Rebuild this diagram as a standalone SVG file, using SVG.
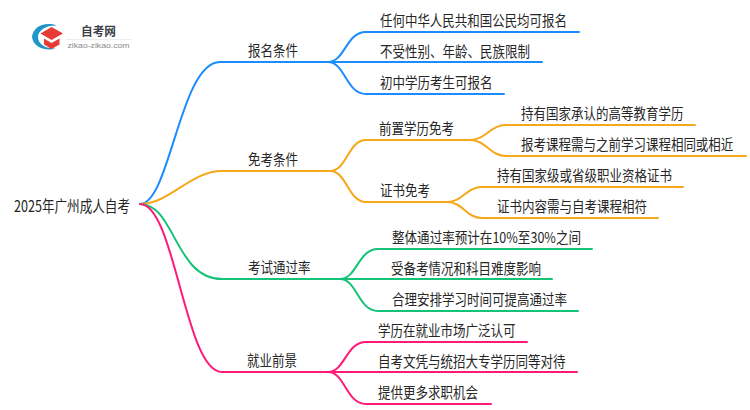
<svg xmlns="http://www.w3.org/2000/svg" width="750" height="410" viewBox="0 0 750 410">
<style>
text{font-family:"Noto Sans CJK SC","Liberation Sans",sans-serif;font-size:15px;fill:#262626}
.c path{fill:none;stroke-width:2;stroke-linecap:round}
.b path{stroke:#1a8cff}.o path{stroke:#f5a81c}.g path{stroke:#14c278}.p path{stroke:#ff1a78}
</style>
<rect width="750" height="410" fill="#fff"/>
<g id="logo">
<path d="M57 25.500C44 21 33 27 32 37C33 46 44 52 56 48.500C47 49 38 45 38 37C38 30 47 25 57 25.500Z" fill="#1f95c9"/>
<path d="M40.500 33.500L51.500 27L63 33.500L51.500 40Z" fill="#e83a36"/>
<path d="M44 38.500L51.500 43L59.500 38.500V44.500L51.500 49L44 44.500Z" fill="#e83a36"/>
<text x="81" y="36" textLength="35" lengthAdjust="spacingAndGlyphs" style="font-size:12px;font-weight:700;fill:#3a3f48">自考网</text>
<rect x="66" y="39" width="65" height="0.700" fill="#e4e4e4"/>
<text x="67.500" y="48" textLength="62" lengthAdjust="spacingAndGlyphs" style="font-size:8px;fill:#8a8a8a;font-family:'Liberation Sans',sans-serif">zikao-zikao.com</text>
</g>
<g id="connectors" class="c">
<g class="b">
<path d="M140 204C170 204 180 62 220 62H328"/>
<path d="M328 62C345 62 346 32 366 32H579"/>
<path d="M328 62H542"/>
<path d="M328 62C345 62 346 94 366 94H504"/>
</g>
<g class="o">
<path d="M140 204C170 204 190 171 222 171H330"/>
<path d="M330 171C347 171 348 140 366 140H470"/>
<path d="M330 171C347 171 348 202 366 202H447"/>
<path d="M470 140C486 140 490 125 506 125H695"/>
<path d="M470 140C486 140 490 156 506 156H746"/>
<path d="M447 202C463 202 466 187 482 187H683"/>
<path d="M447 202C463 202 466 218 482 218H658"/>
</g>
<g class="g">
<path d="M140 204C175 204 175 279 222 279H340"/>
<path d="M340 279C357 279 358 249 378 249H592"/>
<path d="M340 279H552"/>
<path d="M340 279C357 279 358 311 378 311H578"/>
</g>
<g class="p">
<path d="M140 204C175 204 185 372 222 372H328"/>
<path d="M328 372C345 372 346 342 366 342H527"/>
<path d="M328 372H577"/>
<path d="M328 372C345 372 346 404 366 404H491"/>
</g>
</g>
<g id="n0"><text x="14" y="212" textLength="116" lengthAdjust="spacingAndGlyphs" style="font-size:15.500px">2025年广州成人自考</text></g>
<g id="n1"><text x="248" y="56" textLength="50" lengthAdjust="spacingAndGlyphs">报名条件</text></g>
<g id="n2"><text x="380" y="25.500" textLength="187" lengthAdjust="spacingAndGlyphs">任何中华人民共和国公民均可报名</text></g>
<g id="n3"><text x="380" y="56.500" textLength="150" lengthAdjust="spacingAndGlyphs">不受性别、年龄、民族限制</text></g>
<g id="n4"><text x="380" y="87.500" textLength="112.500" lengthAdjust="spacingAndGlyphs">初中学历考生可报名</text></g>
<g id="n5"><text x="248" y="165" textLength="50" lengthAdjust="spacingAndGlyphs">免考条件</text></g>
<g id="n6"><text x="379" y="133.500" textLength="75" lengthAdjust="spacingAndGlyphs">前置学历免考</text></g>
<g id="n7"><text x="521" y="118.500" textLength="162.500" lengthAdjust="spacingAndGlyphs">持有国家承认的高等教育学历</text></g>
<g id="n8"><text transform="translate(521 149.500) scale(.8333 1)">报考课程需与之前学习课程相同或相近</text></g>
<g id="n9"><text x="380" y="196" textLength="50" lengthAdjust="spacingAndGlyphs">证书免考</text></g>
<g id="n10"><text x="497" y="180.500" textLength="175" lengthAdjust="spacingAndGlyphs">持有国家级或省级职业资格证书</text></g>
<g id="n11"><text x="497" y="211.500" textLength="150" lengthAdjust="spacingAndGlyphs">证书内容需与自考课程相符</text></g>
<g id="n12"><text x="248" y="273" textLength="62.500" lengthAdjust="spacingAndGlyphs">考试通过率</text></g>
<g id="n13"><text x="392" y="242.500" textLength="189" lengthAdjust="spacingAndGlyphs">整体通过率预计在10%至30%之间</text></g>
<g id="n14"><text x="391" y="273.500" textLength="150" lengthAdjust="spacingAndGlyphs">受备考情况和科目难度影响</text></g>
<g id="n15"><text x="392" y="304.500" textLength="175" lengthAdjust="spacingAndGlyphs">合理安排学习时间可提高通过率</text></g>
<g id="n16"><text x="247" y="366" textLength="50" lengthAdjust="spacingAndGlyphs">就业前景</text></g>
<g id="n17"><text x="378" y="335.500" textLength="137.500" lengthAdjust="spacingAndGlyphs">学历在就业市场广泛认可</text></g>
<g id="n18"><text x="378" y="366.500" textLength="187.500" lengthAdjust="spacingAndGlyphs">自考文凭与统招大专学历同等对待</text></g>
<g id="n19"><text x="378" y="397.500" textLength="100" lengthAdjust="spacingAndGlyphs">提供更多求职机会</text></g>
</svg>
